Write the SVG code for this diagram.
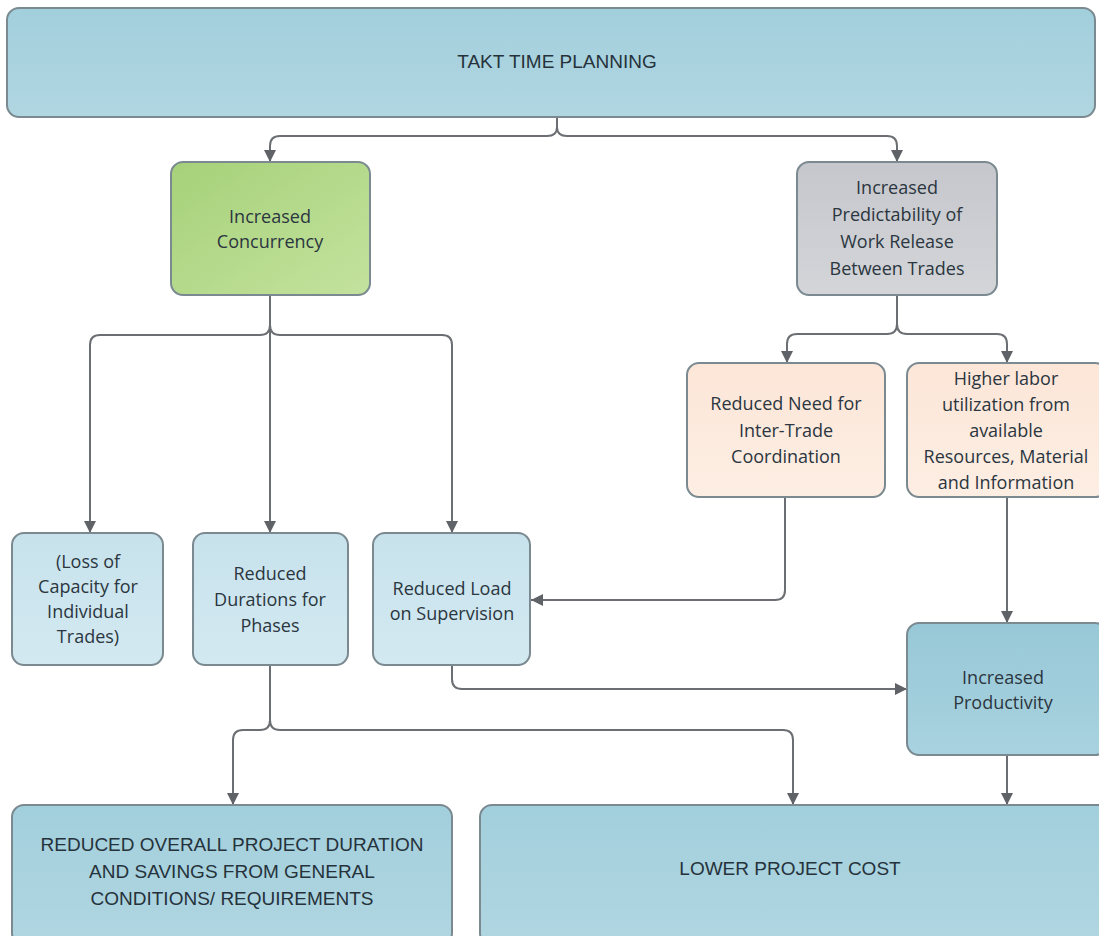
<svg xmlns="http://www.w3.org/2000/svg" width="1099" height="936" viewBox="0 0 1099 936">
<defs>
<linearGradient id="gBlue" x1="0" y1="0" x2="0" y2="1"><stop offset="0" stop-color="#a2cfdc"/><stop offset="1" stop-color="#b0d6e1"/></linearGradient>
<linearGradient id="gBlue2" x1="0" y1="0" x2="0" y2="1"><stop offset="0" stop-color="#98c8d7"/><stop offset="1" stop-color="#a8d2df"/></linearGradient>
<linearGradient id="gLight" x1="0" y1="0" x2="0" y2="1"><stop offset="0" stop-color="#c7e2ec"/><stop offset="1" stop-color="#d3e9f1"/></linearGradient>
<linearGradient id="gGreen" x1="0" y1="0" x2="1" y2="1"><stop offset="0" stop-color="#a6d179"/><stop offset="1" stop-color="#c3e29e"/></linearGradient>
<linearGradient id="gGray" x1="0" y1="0" x2="0" y2="1"><stop offset="0" stop-color="#c5c7cc"/><stop offset="1" stop-color="#d3d5d9"/></linearGradient>
<linearGradient id="gOrange" x1="0" y1="0" x2="0" y2="1"><stop offset="0" stop-color="#fce6d8"/><stop offset="1" stop-color="#fdeee3"/></linearGradient>
<marker id="arr" markerUnits="userSpaceOnUse" markerWidth="12" markerHeight="12" viewBox="0 0 12 12" refX="12" refY="6" orient="auto">
<path d="M0,0 L12,6 L0,12 Z" fill="#5f6266"/>
</marker>
</defs>
<style>
.box{stroke:#7a8a90;stroke-width:2}
.t{font-family:"Open Sans","Liberation Sans",Arial,sans-serif;font-size:18px;fill:#2b3640;text-anchor:middle}
.c{font-family:"Liberation Sans",Arial,sans-serif;font-size:19px;fill:#26323b;text-anchor:middle}
.con{fill:none;stroke:#6b6e72;stroke-width:2}
</style>
<rect width="1099" height="936" fill="#ffffff"/>

<g id="connectors">
<path class="con" d="M557,117 V127 Q557,136 547,136 H280 Q270,136 270,146 V162" marker-end="url(#arr)"/>
<path class="con" d="M557,127 Q557,136 567,136 H887 Q897,136 897,146 V162" marker-end="url(#arr)"/>
<path class="con" d="M270,295 V533" marker-end="url(#arr)"/>
<path class="con" d="M270,325 Q270,335 260,335 H100 Q90,335 90,345 V533" marker-end="url(#arr)"/>
<path class="con" d="M270,325 Q270,335 280,335 H442 Q452,335 452,345 V533" marker-end="url(#arr)"/>
<path class="con" d="M897,295 V324 Q897,334 887,334 H797 Q787,334 787,344 V363" marker-end="url(#arr)"/>
<path class="con" d="M897,324 Q897,334 907,334 H997 Q1007,334 1007,344 V363" marker-end="url(#arr)"/>
<path class="con" d="M785,497 V590 Q785,600 775,600 H531" marker-end="url(#arr)"/>
<path class="con" d="M1007,497 V623" marker-end="url(#arr)"/>
<path class="con" d="M452,665 V679 Q452,689 462,689 H907" marker-end="url(#arr)"/>
<path class="con" d="M270,665 V720 Q270,730 260,730 H243 Q233,730 233,740 V805" marker-end="url(#arr)"/>
<path class="con" d="M270,720 Q270,730 280,730 H783 Q793,730 793,740 V805" marker-end="url(#arr)"/>
<path class="con" d="M1007,755 V805" marker-end="url(#arr)"/>
</g>

<g id="takt">
<rect class="box" x="7" y="8" width="1088" height="109" rx="12" fill="url(#gBlue)"/>
<text class="c" x="557" y="68">TAKT TIME PLANNING</text>
</g>

<g id="concurrency">
<rect class="box" x="171" y="162" width="199" height="133" rx="12" fill="url(#gGreen)" stroke="#6f7e66"/>
<text class="t" x="270" y="223" fill="#2f4020">Increased</text>
<text class="t" x="270" y="248" fill="#2f4020">Concurrency</text>
</g>

<g id="predictability">
<rect class="box" x="797" y="162" width="200" height="133" rx="12" fill="url(#gGray)" stroke="#727478"/>
<text class="t" x="897" y="194">Increased</text>
<text class="t" x="897" y="221">Predictability of</text>
<text class="t" x="897" y="248">Work Release</text>
<text class="t" x="897" y="275">Between Trades</text>
</g>

<g id="needcoord">
<rect class="box" x="687" y="363" width="198" height="134" rx="12" fill="url(#gOrange)" stroke="#8a8378"/>
<text class="t" x="786" y="410">Reduced Need for</text>
<text class="t" x="786" y="437">Inter-Trade</text>
<text class="t" x="786" y="463">Coordination</text>
</g>

<g id="laborutil">
<rect class="box" x="907" y="363" width="200" height="134" rx="12" fill="url(#gOrange)" stroke="#8a8378"/>
<text class="t" x="1006" y="385">Higher labor</text>
<text class="t" x="1006" y="411">utilization from</text>
<text class="t" x="1006" y="437">available</text>
<text class="t" x="1006" y="463">Resources, Material</text>
<text class="t" x="1006" y="489">and Information</text>
</g>

<g id="losscap">
<rect class="box" x="12" y="533" width="151" height="132" rx="12" fill="url(#gLight)"/>
<text class="t" x="88" y="568">(Loss of</text>
<text class="t" x="88" y="593">Capacity for</text>
<text class="t" x="88" y="618">Individual</text>
<text class="t" x="88" y="643">Trades)</text>
</g>

<g id="durations">
<rect class="box" x="193" y="533" width="155" height="132" rx="12" fill="url(#gLight)"/>
<text class="t" x="270" y="580">Reduced</text>
<text class="t" x="270" y="606">Durations for</text>
<text class="t" x="270" y="632">Phases</text>
</g>

<g id="supervision">
<rect class="box" x="373" y="533" width="157" height="132" rx="12" fill="url(#gLight)"/>
<text class="t" x="452" y="595">Reduced Load</text>
<text class="t" x="452" y="620">on Supervision</text>
</g>

<g id="productivity">
<rect class="box" x="907" y="623" width="200" height="132" rx="12" fill="url(#gBlue2)"/>
<text class="t" x="1003" y="684">Increased</text>
<text class="t" x="1003" y="709">Productivity</text>
</g>

<g id="overall">
<rect class="box" x="12" y="805" width="440" height="140" rx="12" fill="url(#gBlue)"/>
<text class="c" x="232" y="851">REDUCED OVERALL PROJECT DURATION</text>
<text class="c" x="232" y="878">AND SAVINGS FROM GENERAL</text>
<text class="c" x="232" y="905">CONDITIONS/ REQUIREMENTS</text>
</g>

<g id="cost">
<rect class="box" x="480" y="805" width="630" height="140" rx="12" fill="url(#gBlue)"/>
<text class="c" x="790" y="875">LOWER PROJECT COST</text>
</g>
</svg>
